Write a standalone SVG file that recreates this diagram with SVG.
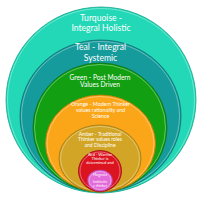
<svg xmlns="http://www.w3.org/2000/svg" width="203" height="200" viewBox="0 0 203 200">
<style>
.t{font-family:Lato,"Open Sans","Liberation Sans",sans-serif;fill:#fff;text-anchor:middle}
.rim{fill:none;stroke:#fff;stroke-opacity:0.35;stroke-width:1}
</style>
<rect width="203" height="200" fill="#fff"/>
<g id="turquoise">
<ellipse cx="101" cy="100" rx="95" ry="93" fill="#22d8b7" stroke="#14a68c" stroke-width="0.8"/>
<ellipse class="rim" cx="101" cy="100" rx="93.5" ry="91.5"/>
<text class="t" x="101" y="21" font-size="8.6">Turquoise -</text>
<text class="t" x="101" y="31" font-size="8.6">Integral Holistic</text>
</g>
<g id="teal">
<ellipse cx="100.5" cy="116" rx="80.5" ry="76" fill="#169b9c" stroke="#0d6f70" stroke-width="0.8"/>
<ellipse class="rim" cx="100.5" cy="116" rx="79" ry="74.5"/>
<text class="t" x="100.5" y="50" font-size="8.6">Teal - Integral</text>
<text class="t" x="100.5" y="60.5" font-size="8.6">Systemic</text>
</g>
<g id="green">
<ellipse cx="100" cy="127.5" rx="67" ry="64.5" fill="#12a012" stroke="#0a700a" stroke-width="0.8"/>
<ellipse class="rim" cx="100" cy="127.5" rx="65.5" ry="63"/>
<text class="t" x="100" y="79.5" font-size="6.6">Green - Post Modern</text>
<text class="t" x="100" y="87" font-size="6.6">Values Driven</text>
</g>
<g id="orange">
<ellipse cx="100.5" cy="143.5" rx="55" ry="48.5" fill="#fba618" stroke="#c47a08" stroke-width="0.8"/>
<ellipse class="rim" cx="100.5" cy="143.5" rx="53.5" ry="47"/>
<text class="t" x="100.5" y="106" font-size="5.3">Orange - Modern Thinker</text>
<text class="t" x="100.5" y="112" font-size="5.3">values rationality and</text>
<text class="t" x="100.5" y="118" font-size="5.3">Science</text>
</g>
<g id="amber">
<ellipse cx="100" cy="158.5" rx="41" ry="33.5" fill="#d2a526" stroke="#9c7a14" stroke-width="0.8"/>
<ellipse class="rim" cx="100" cy="158.5" rx="39.5" ry="32"/>
<text class="t" x="100" y="135.5" font-size="5.1">Amber - Traditional</text>
<text class="t" x="100" y="141" font-size="5.1">Thinker values roles</text>
<text class="t" x="100" y="146.5" font-size="5.1">and Discipline</text>
</g>
<g id="red">
<ellipse cx="100" cy="171" rx="21.5" ry="20.5" fill="#dc1420" stroke="#9a0a12" stroke-width="0.8"/>
<ellipse class="rim" cx="100" cy="171" rx="20" ry="19"/>
<text class="t" x="100" y="156" font-size="4">Red - Warrior</text>
<text class="t" x="100" y="160" font-size="4">Thinker is</text>
<text class="t" x="100" y="164.2" font-size="4">determined and</text>
</g>
<g id="magenta">
<ellipse cx="100" cy="180.5" rx="12.5" ry="10.5" fill="#e36bd9" stroke="#b040a8" stroke-width="0.8"/>
<ellipse class="rim" cx="100" cy="180.5" rx="11" ry="9"/>
<text class="t" x="100" y="175.5" font-size="3.6">Magenta</text>
<text class="t" x="100" y="179" font-size="3.6">-</text>
<text class="t" x="100" y="183" font-size="3.6">Instinctiv</text>
<text class="t" x="100" y="187" font-size="3.6">e thinker</text>
</g>
<g id="connectors"/>
</svg>
